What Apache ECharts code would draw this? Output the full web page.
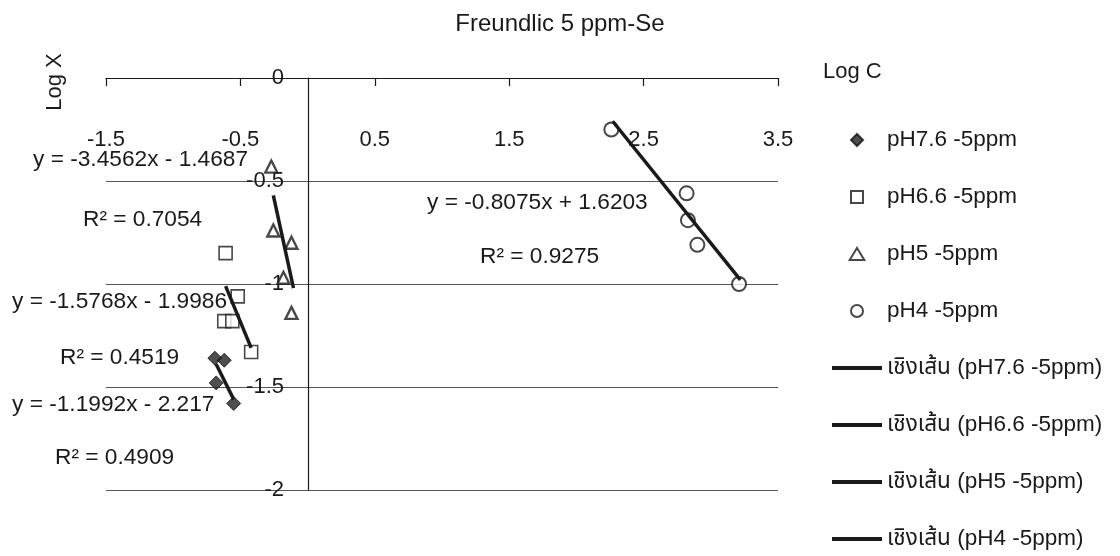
<!DOCTYPE html>
<html>
<head>
<meta charset="utf-8">
<script src="https://cdn.jsdelivr.net/npm/echarts@6/dist/echarts.min.js"></script>
<style>html,body{margin:0;padding:0;background:#fff;}#chart{width:1120px;height:556px;}</style>
</head>
<body>
<div id="chart"></div>
<script>
const FONT = "'Liberation Sans', Arial, 'Noto Sans Thai', 'Noto Sans', sans-serif";
const titleText = 'Freundlic 5 ppm-Se';
const xTicks = { min: -1.5, max: 3.5, interval: 1 };
const yTicks = { min: -2, max: 0, interval: 0.5 };

// scatter data [LogC, LogX]
const pH76 = [[-0.69, -1.36], [-0.62, -1.37], [-0.68, -1.48], [-0.55, -1.58]];
const pH66 = [[-0.61, -0.85], [-0.52, -1.06], [-0.62, -1.18], [-0.56, -1.18], [-0.42, -1.33]];
const pH5  = [[-0.27, -0.43], [-0.255, -0.74], [-0.12, -0.80], [-0.18, -0.97], [-0.12, -1.14]];
const pH4  = [[2.26, -0.25], [2.82, -0.56], [2.83, -0.69], [2.90, -0.81], [3.21, -1.00]];

// trendline end points
const trend76 = [[-0.68, -1.39], [-0.55, -1.56]];
const trend66 = [[-0.61, -1.01], [-0.42, -1.31]];
const trend5  = [[-0.255, -0.57], [-0.105, -1.02]];
const trend4  = [[2.27, -0.21], [3.22, -0.98]];

const seriesNames = ['pH7.6 -5ppm', 'pH6.6 -5ppm', 'pH5 -5ppm', 'pH4 -5ppm'];
const trendNames = ['เชิงเส้น (pH7.6 -5ppm)', 'เชิงเส้น (pH6.6 -5ppm)', 'เชิงเส้น (pH5 -5ppm)', 'เชิงเส้น (pH4 -5ppm)'];

const equations = [
  { text: 'y = -3.4562x - 1.4687', x: 33, y: 160 },
  { text: 'R² = 0.7054', x: 83, y: 220 },
  { text: 'y = -1.5768x - 1.9986', x: 12, y: 302 },
  { text: 'R² = 0.4519', x: 60, y: 358 },
  { text: 'y = -1.1992x - 2.217', x: 12, y: 405 },
  { text: 'R² = 0.4909', x: 55, y: 458 },
  { text: 'y = -0.8075x + 1.6203', x: 427, y: 203 },
  { text: 'R² = 0.9275', x: 480, y: 257 }
];

const INK = '#1a1a1a';
const chart = echarts.init(document.getElementById('chart'), null, { renderer: 'canvas' });

const scatterStyle = [
  { symbol: 'diamond', symbolSize: 14, itemStyle: { color: '#222', borderColor: '#111', borderWidth: 1 } },
  { symbol: 'rect', symbolSize: 13, itemStyle: { color: '#fff', borderColor: INK, borderWidth: 1.6 } },
  { symbol: 'triangle', symbolSize: 12, itemStyle: { color: '#fff', borderColor: INK, borderWidth: 2.4 } },
  { symbol: 'circle', symbolSize: 14, itemStyle: { color: '#fff', borderColor: INK, borderWidth: 2 } }
];
const legendIcons = [
  'path://M0,-1L1,0L0,1L-1,0Z',
  'path://M-1,-1H1V1H-1Z',
  'path://M0,-1L1.1,0.8L-1.1,0.8Z',
  'path://M1,0A1,1,0,1,1,-1,0A1,1,0,1,1,1,0Z'
];
const lineIcon = 'path://M0,0H50V4H0Z';
const scatterData = [pH76, pH66, pH5, pH4];
const trendData = [trend76, trend66, trend5, trend4];

const series = [];
scatterData.forEach((d, i) => {
  series.push(Object.assign({ type: 'scatter', name: seriesNames[i], data: d, z: 2 }, scatterStyle[i]));
});
trendData.forEach((d, i) => {
  series.push({
    type: 'line', name: trendNames[i], data: d, symbol: 'none', showSymbol: false, z: 3,
    lineStyle: { color: INK, width: 3.5 }, itemStyle: { color: INK }
  });
});

const legendData = seriesNames.map((n, i) => ({ name: n, icon: legendIcons[i] }))
  .concat(trendNames.map(n => ({ name: n, icon: lineIcon })));

const graphics = [
  { type: 'text', left: 'center', top: 12, style: { text: titleText, font: '24px ' + FONT, fill: INK } },
  { type: 'text', x: 55, y: 82, rotation: Math.PI / 2, style: { text: 'Log X', font: '22px ' + FONT, fill: INK, textAlign: 'center', textVerticalAlign: 'middle' } },
  { type: 'text', x: 823, y: 72, style: { text: 'Log C', font: '22px ' + FONT, fill: INK, textVerticalAlign: 'middle' } }
];
equations.forEach(e => {
  graphics.push({ type: 'text', x: e.x, y: e.y, style: { text: e.text, font: '22.7px ' + FONT, fill: INK, textVerticalAlign: 'middle' } });
});

chart.setOption({
  animation: false,
  backgroundColor: '#fff',
  grid: { left: 106, right: 342, top: 78, bottom: 66, containLabel: false },
  xAxis: {
    type: 'value', position: 'top', min: xTicks.min, max: xTicks.max, interval: xTicks.interval,
    axisLine: { show: true, onZero: false, lineStyle: { color: INK, width: 1.2 } },
    axisTick: { show: true, inside: true, length: 8, lineStyle: { color: INK, width: 1.2 } },
    axisLabel: { inside: true, margin: 51, fontSize: 22, fontFamily: FONT, color: INK },
    splitLine: { show: false }
  },
  yAxis: {
    type: 'value', position: 'left', offset: -202, min: yTicks.min, max: yTicks.max, interval: yTicks.interval,
    axisLine: { show: true, onZero: false, lineStyle: { color: INK, width: 1.2 } },
    axisTick: { show: false },
    axisLabel: { margin: 24, fontSize: 22, fontFamily: FONT, color: INK },
    splitLine: { show: true, lineStyle: { color: '#555', width: 1.2 } }
  },
  legend: {
    orient: 'vertical', left: 832, top: 128, padding: 0, itemWidth: 50, itemHeight: 12, itemGap: 33,
    symbolKeepAspect: true,
    textStyle: { fontSize: 22.5, fontFamily: FONT, color: INK, lineHeight: 24 },
    data: legendData
  },
  graphic: graphics,
  series: series
});
</script>
</body>
</html>
